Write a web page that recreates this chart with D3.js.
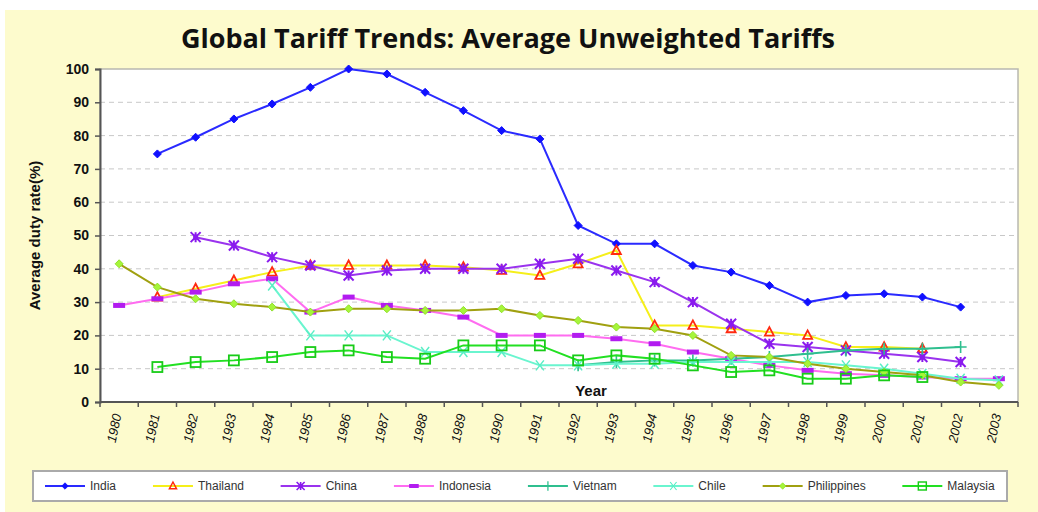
<!DOCTYPE html>
<html lang="en">
<head>
<meta charset="UTF-8">
<title>Global Tariff Trends</title>
<script src="https://d3js.org/d3.v7.min.js"></script>
<style>
  body { margin: 0; background: #fff; }
  text { font-family: "Liberation Sans", Arial, sans-serif; }
</style>
</head>
<body>
<svg width="1038" height="512"></svg>
<script>
// years on the x axis
var years = d3.range(1980, 2004).map(String);
var yTicks = d3.range(0, 101, 10);

// series values, one per year (null = no data)
var india = [null, 74.5, 79.5, 85, 89.5, 94.5, 100, 98.5, 93, 87.5, 81.5, 79, 53, 47.5, 47.5, 41, 39, 35, 30, 32, 32.5, 31.5, 28.5, null];
var thailand = [null, 31.5, 34, 36.5, 39, 41, 41, 41, 41, 40.5, 39.5, 38, 41.5, 45.5, 23, 23, 22, 21, 20, 16.5, 16.5, 16, null, null];
var china = [null, null, 49.5, 47, 43.5, 41, 38, 39.5, 40, 40, 40, 41.5, 43, 39.5, 36, 30, 23.5, 17.5, 16.5, 15.5, 14.5, 13.5, 12, null];
var indonesia = [29, 31, 33, 35.5, 37, 27, 31.5, 29, 27.5, 25.5, 20, 20, 20, 19, 17.5, 15, 13, 11, 9.5, 8.5, 8, 7.5, 7, 7];
var vietnam = [null, null, null, null, null, null, null, null, null, null, null, null, 11, 12, 12.5, 12.5, 13, 13.5, 14.5, 15.5, 16, 16, 16.5, null];
var chile = [null, null, null, null, 35, 20, 20, 20, 15, 15, 15, 11, 11, 11.5, 11.5, 12, 12, 12, 12, 11, 10, 8.5, 7, 6.5];
var philippines = [41.5, 34.5, 31, 29.5, 28.5, 27, 28, 28, 27.5, 27.5, 28, 26, 24.5, 22.5, 22, 20, 14, 13.5, 11.5, 10, 9, 8, 6, 5];
var malaysia = [null, 10.5, 12, 12.5, 13.5, 15, 15.5, 13.5, 13, 17, 17, 17, 12.5, 14, 13, 11, 9, 9.5, 7, 7, 8, 7.5, null, null];

var seriesNames = ["India", "Thailand", "China", "Indonesia", "Vietnam", "Chile", "Philippines", "Malaysia"];
var seriesValues = [india, thailand, china, indonesia, vietnam, chile, philippines, malaysia];

// styles per series
var styles = {
  India:       { line: "#2a2aff", marker: "diamond",  fill: "#1010ff", stroke: "#1010ff" },
  Thailand:    { line: "#f5ef1a", marker: "triangle", fill: "none",    stroke: "#ff2a10" },
  China:       { line: "#9a33ee", marker: "star",     fill: "#8a1aee", stroke: "#8a1aee" },
  Indonesia:   { line: "#ff6cf0", marker: "dash",     fill: "#b21cf0", stroke: "#b21cf0" },
  Vietnam:     { line: "#2fbf8f", marker: "plus",     fill: "none",    stroke: "#2fbf8f" },
  Chile:       { line: "#6af5cf", marker: "cross",    fill: "none",    stroke: "#5aeec5" },
  Philippines: { line: "#a0a010", marker: "diamond",  fill: "#a6f53a", stroke: "#8fe02a" },
  Malaysia:    { line: "#22e022", marker: "square",   fill: "none",    stroke: "#18cc18" }
};

var svg = d3.select("svg");
var W = 1038, H = 512;

// pale yellow chart panel
svg.append("rect").attr("x", 5).attr("y", 10).attr("width", W - 5).attr("height", H - 10)
  .attr("fill", "#fdfbcd");

var margin = { left: 100, top: 69, right: 20, bottom: 110 };
var pw = W - margin.left - margin.right, ph = H - margin.top - margin.bottom;

var x = d3.scaleBand().domain(years).range([margin.left, margin.left + pw]);
var y = d3.scaleLinear().domain([0, 100]).range([margin.top + ph, margin.top]);

// plot area
svg.append("rect").attr("x", margin.left).attr("y", margin.top).attr("width", pw).attr("height", ph)
  .attr("fill", "#fff").attr("stroke", "#b8b8b0").attr("stroke-width", 1.5);

// gridlines
svg.append("g").selectAll("line").data(yTicks.filter(d => d > 0 && d < 100)).join("line")
  .attr("x1", margin.left).attr("x2", margin.left + pw)
  .attr("y1", d => y(d)).attr("y2", d => y(d))
  .attr("stroke", "#c8c8c8").attr("stroke-dasharray", "5,4").attr("stroke-width", 1);

// y axis
var yAxis = svg.append("g").attr("transform", `translate(${margin.left},0)`)
  .call(d3.axisLeft(y).tickValues(yTicks).tickSize(5).tickPadding(6));
yAxis.select(".domain").attr("stroke", "#555").attr("stroke-width", 2);
yAxis.selectAll(".tick line").attr("stroke", "#555").attr("stroke-width", 1.5);
yAxis.selectAll("text").attr("font-size", 14).attr("fill", "#111").attr("font-weight", "bold");

// x axis, ticks between categories
var xAxis = svg.append("g").attr("transform", `translate(0,${margin.top + ph})`);
xAxis.append("line").attr("x1", margin.left).attr("x2", margin.left + pw)
  .attr("stroke", "#555").attr("stroke-width", 2);
xAxis.selectAll("line.tk").data(years.concat(["end"])).join("line").attr("class", "tk")
  .attr("x1", (d, i) => margin.left + i * x.step()).attr("x2", (d, i) => margin.left + i * x.step())
  .attr("y1", 0).attr("y2", 5).attr("stroke", "#555").attr("stroke-width", 1.5);
xAxis.selectAll("text").data(years).join("text")
  .attr("transform", d => `translate(${x(d) + x.bandwidth() / 2 - 2},${12}) rotate(-78)`)
  .attr("text-anchor", "end").attr("dy", "0.35em")
  .attr("font-size", 13).attr("fill", "#111").attr("font-style", "italic")
  .text(d => d);

// markers
function drawMarker(g, type, s) {
  if (type === "diamond") {
    g.append("path").attr("d", "M0,-4L4,0L0,4L-4,0Z").attr("fill", s.fill).attr("stroke", s.stroke);
  } else if (type === "triangle") {
    g.append("path").attr("d", "M0,-5L4.5,3.5L-4.5,3.5Z").attr("fill", "none").attr("stroke", s.stroke).attr("stroke-width", 1.8);
  } else if (type === "star") {
    g.append("path").attr("d", "M-5,-5L5,5M-5,5L5,-5M0,-5L0,5").attr("stroke", s.stroke).attr("stroke-width", 2);
    g.append("rect").attr("x", -2.5).attr("y", -2.5).attr("width", 5).attr("height", 5).attr("fill", s.fill);
  } else if (type === "dash") {
    g.append("rect").attr("x", -6).attr("y", -2.5).attr("width", 12).attr("height", 5).attr("fill", s.fill);
  } else if (type === "plus") {
    g.append("path").attr("d", "M-6,0L6,0M0,-6L0,6").attr("stroke", s.stroke).attr("stroke-width", 1.6);
  } else if (type === "cross") {
    g.append("path").attr("d", "M-4,-5L4,5M-4,5L4,-5").attr("stroke", s.stroke).attr("stroke-width", 1.5);
  } else if (type === "square") {
    g.append("rect").attr("x", -5).attr("y", -5).attr("width", 10).attr("height", 10)
      .attr("fill", "none").attr("stroke", s.stroke).attr("stroke-width", 1.8);
  }
}

var line = d3.line()
  .defined(d => d.v != null)
  .x(d => x(d.year) + x.bandwidth() / 2)
  .y(d => y(d.v));

var data = seriesNames.map((name, i) => ({
  name: name,
  points: years.map((yr, j) => ({ year: yr, v: seriesValues[i][j] }))
}));

var series = svg.append("g").selectAll("g").data(data).join("g");
series.append("path")
  .attr("d", d => line(d.points))
  .attr("fill", "none")
  .attr("stroke", d => styles[d.name].line)
  .attr("stroke-width", 2);
series.each(function(d) {
  var s = styles[d.name];
  d3.select(this).selectAll("g.pt").data(d.points.filter(p => p.v != null)).join("g")
    .attr("class", "pt")
    .attr("transform", p => `translate(${x(p.year) + x.bandwidth() / 2},${y(p.v)})`)
    .each(function() { drawMarker(d3.select(this), s.marker, s); });
});

// title
svg.append("text").attr("x", 508).attr("y", 48).attr("text-anchor", "middle")
  .attr("font-size", 27).attr("font-weight", "bold")
  .style("font-family", "'Liberation Sans Narrow', 'Open Sans', sans-serif")
  .attr("fill", "#111")
  .text("Global Tariff Trends: Average Unweighted Tariffs");

// axis titles
svg.append("text").attr("transform", `translate(40,${margin.top + ph / 2}) rotate(-90)`)
  .attr("text-anchor", "middle").attr("font-size", 15).attr("font-weight", "bold").attr("fill", "#111")
  .text("Average duty rate(%)");
svg.append("text").attr("x", 591).attr("y", 396).attr("text-anchor", "middle")
  .attr("font-size", 15).attr("font-weight", "bold").attr("fill", "#111")
  .text("Year");

// legend
var lg = svg.append("g");
lg.append("rect").attr("x", 33).attr("y", 471).attr("width", 974).attr("height", 30)
  .attr("fill", "#fff").attr("stroke", "#aaa").attr("stroke-width", 2);
var items = lg.selectAll("g.item").data(seriesNames).join("g").attr("class", "item");
items.append("line").attr("x1", 0).attr("x2", 40).attr("y1", 0).attr("y2", 0)
  .attr("stroke", d => styles[d].line).attr("stroke-width", 2);
items.append("g").attr("transform", "translate(20,0)")
  .each(function(d) { drawMarker(d3.select(this), styles[d].marker, styles[d]); })
  .attr("transform", "translate(20,0) scale(0.8)");
items.append("text").attr("x", 45).attr("dy", "0.35em")
  .attr("font-size", 12).attr("fill", "#333").text(d => d);
// spread items over the legend box
var widths = [];
items.each(function() { widths.push(this.getBBox().width); });
var total = d3.sum(widths), avail = 974 - 24;
var gap = (avail - total) / (seriesNames.length - 1);
var cx = 45;
items.attr("transform", (d, i) => {
  var t = `translate(${cx},486)`;
  cx += widths[i] + gap;
  return t;
});
</script>
</body>
</html>
